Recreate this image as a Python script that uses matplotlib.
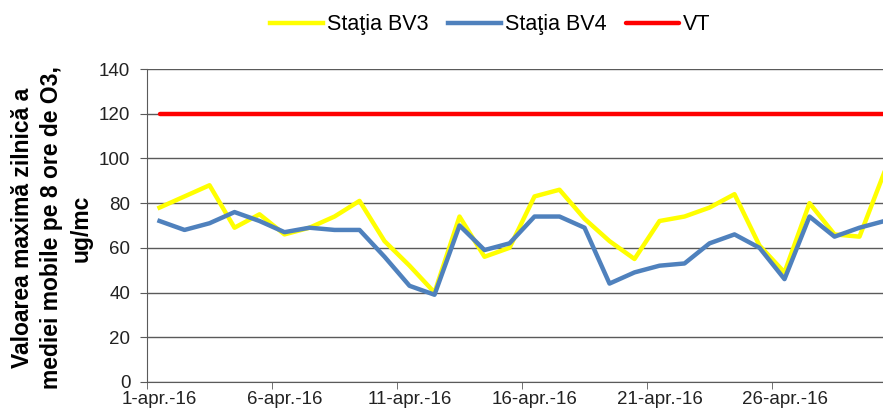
import matplotlib
matplotlib.use("Agg")
import matplotlib.pyplot as plt
import numpy as np

# daily values, 1-30 April 2016
days = list(range(1, 31))
bv3 = [78, 83, 88, 69, 75, 66, 69, 74, 81, 63,
       52, 40, 74, 56, 60, 83, 86, 73, 63, 55,
       72, 74, 78, 84, 61, 49, 80, 66, 65, 94]
bv4 = [72, 68, 71, 76, 72, 67, 69, 68, 68, 56,
       43, 39, 70, 59, 62, 74, 74, 69, 44, 49,
       52, 53, 62, 66, 60, 46, 74, 65, 69, 72]
vt = [120] * 30
tick_days = [1, 6, 11, 16, 21, 26]
tick_labels = [f"{d}-apr.-16" for d in tick_days]

plt.rcParams["font.family"] = ["Liberation Sans", "DejaVu Sans"]


def main():
    fig = plt.figure(figsize=(8.83, 4.16), dpi=100)
    ax = fig.add_axes([0.1665, 0.082, 0.8335, 0.752])

    x = np.arange(len(days))
    ax.plot(x, bv3, color="#FFFF00", lw=3.2, label="Staţia BV3")
    ax.plot(x, bv4, color="#4F81BD", lw=3.2, label="Staţia BV4")
    ax.plot(x, vt, color="#FF0000", lw=3.2, label="VT", solid_capstyle="round")

    ax.set_yticks(range(0, 141, 20))
    ax.grid(axis="y", color="#5a5a5a", lw=1)
    ax.set_axisbelow(True)

    idx = [d - 1 for d in tick_days]
    ax.set_xticks(idx)
    ax.set_xticklabels(tick_labels)
    ax.set_xticks(np.arange(-0.5, 28, 5), minor=True)
    ax.tick_params(axis="x", which="major", length=0, pad=6.5, labelsize=13.5, colors="#222222")
    ax.tick_params(axis="x", which="minor", length=5, direction="out", color="#5a5a5a")
    ax.tick_params(axis="y", length=5, direction="out", labelsize=13.5, color="#5a5a5a",
                   labelcolor="#222222", pad=7)

    ax.set_xlim(-0.5, 28.94)
    ax.set_ylim(0, 140)

    for s in ["top", "right"]:
        ax.spines[s].set_visible(False)
    ax.spines["left"].set_color("#5a5a5a")
    ax.spines["bottom"].set_color("#5a5a5a")

    fig.text(0.0583, 0.452, "Valoarea maximă zilnică a\nmediei mobile pe 8 ore de O3,\nug/mc",
             rotation=90, ha="center", va="center", multialignment="center",
             fontsize=16.5, fontweight="bold", linespacing=1.35)

    fig.legend(loc="center left", bbox_to_anchor=(270 / 883, 0.94), ncol=3, frameon=False,
               fontsize=15.5, handlelength=2.47, handletextpad=0.19, columnspacing=0.88,
               borderpad=0, borderaxespad=0)

    fig.savefig("out.png", dpi=100)


if __name__ == "__main__":
    main()
